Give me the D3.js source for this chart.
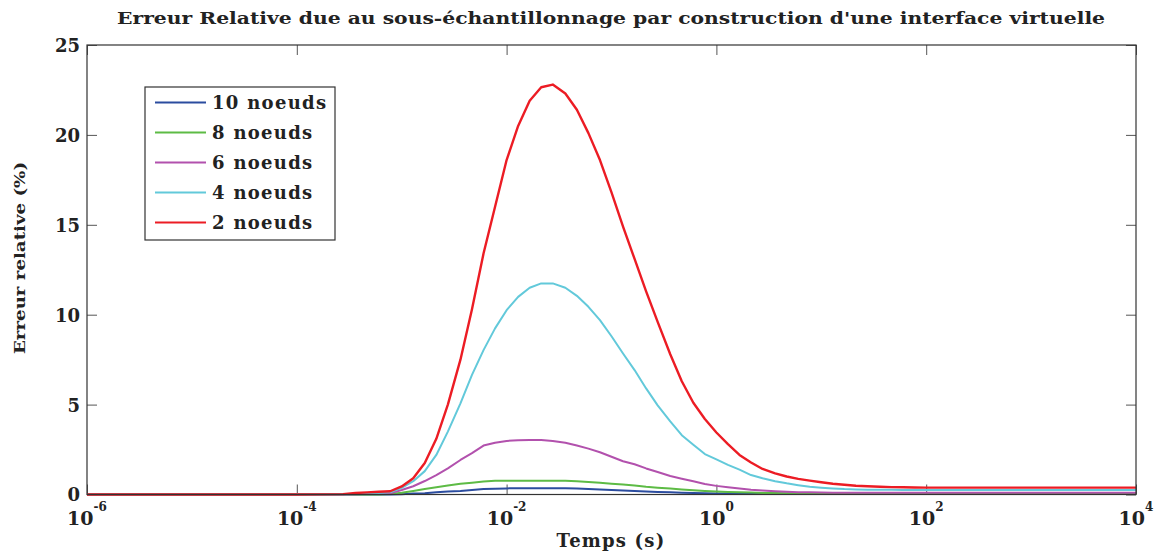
<!DOCTYPE html>
<html>
<head>
<meta charset="utf-8">
<script src="https://cdn.jsdelivr.net/npm/d3@7"></script>
<style>
  body { margin: 0; background: #fff; }
  text { font-family: "DejaVu Serif", serif; font-weight: bold; fill: #222; }
</style>
</head>
<body>
<script>
// log10 of time (s) at each sample
var logTemps = [-6, -4, -3.56, -3.44, -3.33, -3.22, -3.11, -3.00,
  -2.89, -2.78, -2.67, -2.56, -2.44, -2.33, -2.22, -2.11, -2.00,
  -1.89, -1.78, -1.67, -1.56, -1.44, -1.33, -1.22, -1.11, -1.00,
  -0.89, -0.78, -0.67, -0.56, -0.44, -0.33, -0.22, -0.11, 0.00,
  0.11, 0.22, 0.33, 0.44, 0.56, 0.67, 0.78, 0.89, 1.00,
  1.11, 1.22, 1.33, 1.44, 1.56, 1.67, 1.78, 1.89, 2.00,
  4.00];

var noeuds10 = [0, 0, 0, 0, 0, 0, 0, 0.02,
  0.05, 0.07, 0.12, 0.17, 0.2, 0.25, 0.3, 0.32, 0.34,
  0.35, 0.35, 0.35, 0.35, 0.35, 0.33, 0.3, 0.28, 0.25,
  0.22, 0.2, 0.17, 0.14, 0.12, 0.1, 0.08, 0.07, 0.06,
  0.05, 0.05, 0.05, 0.04, 0.04, 0.04, 0.04, 0.04, 0.04,
  0.04, 0.04, 0.04, 0.04, 0.04, 0.04, 0.04, 0.04, 0.04,
  0.04];
var noeuds8 = [0, 0, 0, 0, 0, 0, 0.03, 0.1,
  0.2, 0.3, 0.4, 0.5, 0.6, 0.66, 0.72, 0.76, 0.77,
  0.77, 0.77, 0.77, 0.77, 0.77, 0.74, 0.7, 0.66, 0.6,
  0.55, 0.5, 0.43, 0.38, 0.33, 0.28, 0.24, 0.2, 0.17,
  0.14, 0.12, 0.11, 0.09, 0.08, 0.07, 0.07, 0.06, 0.06,
  0.06, 0.06, 0.06, 0.06, 0.06, 0.06, 0.06, 0.06, 0.06,
  0.06];
var noeuds6 = [0, 0, 0, 0.02, 0.04, 0.05, 0.07, 0.25,
  0.46, 0.75, 1.08, 1.45, 1.92, 2.3, 2.72, 2.88, 2.98,
  3.02, 3.03, 3.03, 2.98, 2.88, 2.72, 2.55, 2.35, 2.1,
  1.85, 1.68, 1.45, 1.25, 1.03, 0.88, 0.74, 0.58, 0.48,
  0.4, 0.33, 0.26, 0.22, 0.18, 0.15, 0.13, 0.12, 0.11,
  0.1, 0.1, 0.1, 0.1, 0.1, 0.1, 0.1, 0.1, 0.1,
  0.1];
var noeuds4 = [0, 0, 0.01, 0.04, 0.06, 0.08, 0.12, 0.37,
  0.74, 1.3, 2.2, 3.5, 5.07, 6.65, 8.03, 9.24, 10.25,
  10.99, 11.5, 11.74, 11.74, 11.5, 11.05, 10.44, 9.7, 8.8,
  7.84, 6.92, 5.9, 4.96, 4.07, 3.3, 2.77, 2.25, 1.95,
  1.65, 1.38, 1.08, 0.9, 0.74, 0.62, 0.52, 0.43, 0.38,
  0.34, 0.3, 0.28, 0.27, 0.26, 0.26, 0.25, 0.25, 0.25,
  0.25];
var noeuds2 = [0, 0, 0.02, 0.08, 0.12, 0.15, 0.18, 0.45,
  0.9, 1.75, 3.1, 5.0, 7.5, 10.3, 13.4, 16.0, 18.6,
  20.5, 21.9, 22.65, 22.8, 22.3, 21.4, 20.1, 18.6, 16.8,
  14.9, 13.1, 11.3, 9.6, 7.8, 6.3, 5.1, 4.2, 3.45,
  2.8, 2.2, 1.78, 1.42, 1.18, 1.0, 0.87, 0.77, 0.68,
  0.6, 0.54, 0.49, 0.46, 0.43, 0.41, 0.4, 0.39, 0.38,
  0.38];

var seriesNames = ["10 noeuds", "8 noeuds", "6 noeuds", "4 noeuds", "2 noeuds"];
var seriesValues = [noeuds10, noeuds8, noeuds6, noeuds4, noeuds2];
var colors = ["#2b4c9f", "#5dbb45", "#b251ad", "#62c9da", "#ec1c24"];

var xTicks = [1e-6, 1e-4, 1e-2, 1e0, 1e2, 1e4];
var xTickExp = ["-6", "-4", "-2", "0", "2", "4"];
var yTicks = [0, 5, 10, 15, 20, 25];

drawChart();

function drawChart() {
    var width = 1155, height = 551;
    var mLeft = 87, mRight = 1136, mTop = 45, mBottom = 494.5;

    var svg = d3.select("body").append("svg")
        .attr("width", width)
        .attr("height", height);

    var x = d3.scaleLog().domain([1e-6, 1e4]).range([mLeft, mRight]);
    var y = d3.scaleLinear().domain([0, 25]).range([mBottom, mTop]);

    // axes with inward ticks on all four sides
    var yAxis = svg.append("g")
        .attr("transform", "translate(" + mLeft + ",0)")
        .call(d3.axisLeft(y).tickValues(yTicks).tickSizeInner(-10).tickSizeOuter(0).tickPadding(7));
    svg.append("g")
        .attr("transform", "translate(" + mRight + ",0)")
        .call(d3.axisRight(y).tickValues(yTicks).tickSizeInner(-10).tickSizeOuter(0).tickFormat(""));
    svg.append("g")
        .attr("transform", "translate(0," + mBottom + ")")
        .call(d3.axisBottom(x).tickValues(xTicks).tickSizeInner(-10).tickSizeOuter(0).tickFormat(""));
    svg.append("g")
        .attr("transform", "translate(0," + mTop + ")")
        .call(d3.axisTop(x).tickValues(xTicks).tickSizeInner(-10).tickSizeOuter(0).tickFormat(""));

    svg.selectAll(".domain").remove();
    svg.selectAll(".tick line").attr("stroke", "#555").attr("stroke-width", 1);
    yAxis.selectAll(".tick text")
        .attr("font-size", "18px")
        .attr("font-family", "DejaVu Serif")
        .attr("font-weight", "bold")
        .attr("fill", "#222")
        .attr("dy", "0.36em");

    // x tick labels as 10 with superscript
    var xl = svg.append("g");
    xTicks.forEach(function(t, i) {
        var txt = xl.append("text")
            .attr("x", x(t))
            .attr("y", 525)
            .attr("text-anchor", "middle")
            .attr("font-size", "19px");
        txt.append("tspan").text("10");
        txt.append("tspan").attr("dy", -14).attr("font-size", "12px").text(xTickExp[i]);
    });

    // curves
    var line = d3.line()
        .x(function(d) { return x(Math.pow(10, d[0])); })
        .y(function(d) { return y(d[1]); });

    seriesValues.forEach(function(vals, i) {
        var pts = logTemps.map(function(e, j) { return [e, vals[j]]; });
        svg.append("path")
            .datum(pts)
            .attr("fill", "none")
            .attr("stroke", colors[i])
            .attr("stroke-width", i == 4 ? 2.4 : 2)
            .attr("stroke-linejoin", "round")
            .attr("d", line);
    });

    // frame
    svg.append("rect")
        .attr("x", mLeft).attr("y", mTop)
        .attr("width", mRight - mLeft).attr("height", mBottom - mTop)
        .attr("fill", "none")
        .attr("stroke", "#333")
        .attr("stroke-width", 1.2);

    // title and axis labels
    svg.append("text")
        .attr("x", 611).attr("y", 24)
        .attr("text-anchor", "middle")
        .attr("font-size", "16px")
        .attr("textLength", 988)
        .attr("lengthAdjust", "spacingAndGlyphs")
        .text("Erreur Relative due au sous-échantillonnage par construction d'une interface virtuelle");

    svg.append("text")
        .attr("x", 611).attr("y", 547)
        .attr("text-anchor", "middle")
        .attr("font-size", "18px")
        .attr("letter-spacing", "1.2px")
        .text("Temps (s)");

    svg.append("text")
        .attr("transform", "translate(25,258) rotate(-90)")
        .attr("text-anchor", "middle")
        .attr("font-size", "15px")
        .attr("textLength", 192)
        .attr("lengthAdjust", "spacingAndGlyphs")
        .text("Erreur relative (%)");

    // legend
    var legend = svg.append("g");
    legend.append("rect")
        .attr("x", 145).attr("y", 87)
        .attr("width", 190).attr("height", 153)
        .attr("fill", "#fff")
        .attr("stroke", "#333")
        .attr("stroke-width", 1.2);

    seriesNames.forEach(function(name, i) {
        var ly = 102.5 + i * 30;
        legend.append("line")
            .attr("x1", 155).attr("x2", 206)
            .attr("y1", ly).attr("y2", ly)
            .attr("stroke", colors[i])
            .attr("stroke-width", 2);
        legend.append("text")
            .attr("x", 212).attr("y", ly + 6.5)
            .attr("font-size", "18px")
            .attr("letter-spacing", "1.3px")
            .text(name);
    });
}
</script>
</body>
</html>
